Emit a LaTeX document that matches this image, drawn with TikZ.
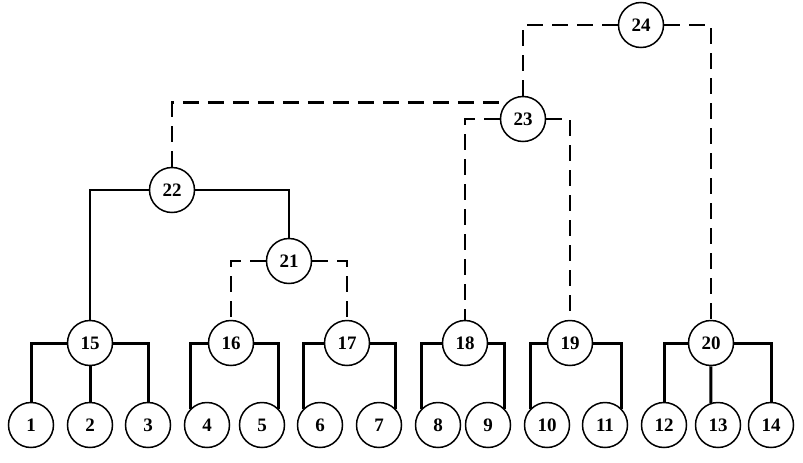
\documentclass[tikz,border=0pt]{standalone}
\usepackage{fontspec}
\setmainfont{Liberation Serif}
\usepackage{tikz}
\usetikzlibrary{positioning}

\tikzset{
  vertex/.style={circle, draw, line width=1.5pt, minimum size=45pt, inner sep=0pt,
    font=\bfseries\fontsize{19}{21}\selectfont},
  link/.style={line width=3pt},
  ulink/.style={line width=2pt},
  dlink/.style={line width=2.6pt, dash pattern=on 16pt off 9pt}
}

\begin{document}
\begin{tikzpicture}[x=1pt, y=-1pt]
\useasboundingbox (0,0) rectangle (803,463);

% leaves
\foreach \i/\x in {1/31, 2/90, 3/148, 4/207, 5/262, 6/320, 7/379,
    8/438, 9/488, 10/547, 11/605, 12/664, 13/718, 14/771}
  \node[vertex] (l\i) at (\x,425) {\i};

% middle layer
\foreach \i/\x in {15/90, 16/231, 17/347, 18/465, 19/570, 20/711}
  \node[vertex] (n\i) at (\x,343) {\i};

\node[vertex] (n21) at (289,261) {21};
\node[vertex] (n22) at (172,190) {22};
\node[vertex] (n23) at (523,119) {23};
\node[vertex] (n24) at (641,25) {24};

% lower links
\draw[link] (n15) -| (l1.north);
\draw[link] (n15) -- (l2);
\draw[link] (n15) -| (l3.north);
\draw[link] (n16) -| (l4.north west);
\draw[link] (n16) -| (l5.north east);
\draw[link] (n17) -| (l6.north west);
\draw[link] (n17) -| (l7.north east);
\draw[link] (n18) -| (l8.north west);
\draw[link] (n18) -| (l9.north east);
\draw[link] (n19) -| (l10.north west);
\draw[link] (n19) -| (l11.north east);
\draw[link] (n20) -| (l12.north);
\draw[link] (n20) -- (l13.108);
\draw[link] (n20) -| (l14.north);

% upper links
\draw[ulink] (n22) -| (n15);
\draw[ulink] (n22) -| (n21);
\draw[dlink] (n21) -| (n16);
\draw[dlink] (n21) -| (n17);
\draw[dlink] (n22) |- (n23.north west);
\draw[dlink] (n23) -| (n18);
\draw[dlink] (n23) -| (n19);
\draw[dlink] (n24) -| (n23);
\draw[dlink] (n24) -| (n20);
\end{tikzpicture}
\end{document}
